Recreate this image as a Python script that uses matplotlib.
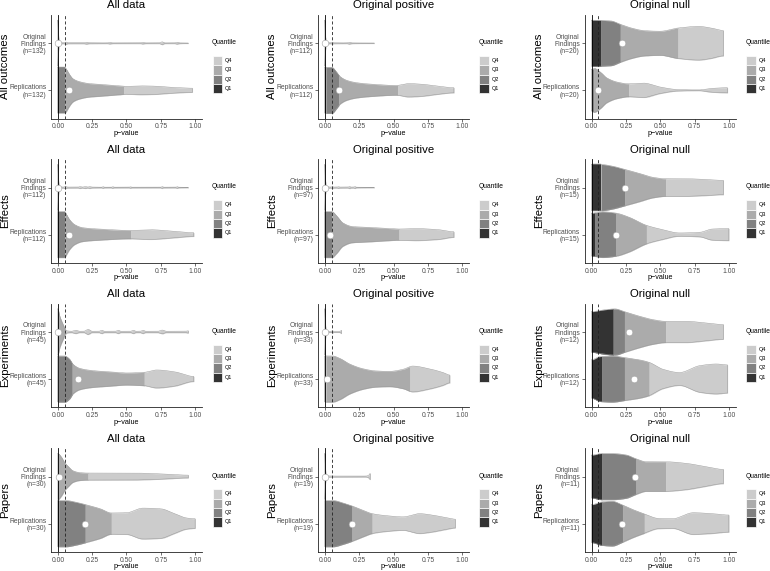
import numpy as np
import matplotlib
matplotlib.use("Agg")
import matplotlib.pyplot as plt
from matplotlib.patches import Rectangle

plt.rcParams['font.family'] = ['Liberation Sans', 'DejaVu Sans']
plt.rcParams['lines.scale_dashes'] = False

row_names = ["All outcomes", "Effects", "Experiments", "Papers"]
col_names = ["All data", "Original positive", "Original null"]
n_counts = [[132, 112, 20], [112, 97, 15], [45, 33, 12], [30, 19, 11]]
quant_labels = ["Q1", "Q2", "Q3", "Q4"]
quant_colors = ["#333333", "#818181", "#ababab", "#cccccc"]
x_ticks = [0, 0.25, 0.5, 0.75, 1.0]

# each violin: p grid, relative half width, quartile cut points, dot position
# --- All outcomes
ao_all_orig_p = [0, .004, .01, .02, .045, .06, .075, .19, .21, .23, .36, .38, .40, .60, .62, .64, .74, .76, .78, .85, .87, .89, .95]
ao_all_orig_w = [1, .35, .08, .03, .02, .05, .02, .02, .04, .02, .015, .035, .015, .015, .035, .015, .015, .06, .015, .015, .04, .015, .01]
ao_all_orig_q = [.0005, .002, .01]
ao_all_orig_dot = .002
ao_all_rep_p = [0, .05, .06, .085, .11, .16, .23, .30, .45, .50, .60, .70, .85, .98]
ao_all_rep_w = [1, 1, .93, .68, .50, .37, .29, .26, .19, .17, .19, .18, .12, .09]
ao_all_rep_q = [.005, .05, .48]
ao_all_rep_dot = .08

ao_pos_orig_p = [0, .004, .01, .03, .045, .055, .065, .16, .18, .20, .36]
ao_pos_orig_w = [1, .3, .06, .025, .02, .045, .02, .015, .04, .015, .01]
ao_pos_orig_q = [.0003, .001, .005]
ao_pos_orig_dot = .004
ao_pos_rep_p = [0, .05, .085, .11, .16, .23, .35, .52, .61, .71, .83, .94]
ao_pos_rep_w = [1, 1, .79, .60, .43, .33, .26, .21, .29, .26, .17, .11]
ao_pos_rep_q = [.008, .10, .53]
ao_pos_rep_dot = .10

ao_null_orig_p = [0, .14, .21, .29, .38, .50, .63, .78, .87, .96]
ao_null_orig_w = [1, .97, .82, .66, .55, .52, .66, .73, .66, .55]
ao_null_orig_q = [.066, .21, .63]
ao_null_orig_dot = .225
ao_null_rep_p = [0, .02, .066, .11, .19, .27, .38, .50, .63, .78, .87, .99]
ao_null_rep_w = [.9, .95, .78, .54, .35, .28, .31, .14, .03, .015, .08, .11]
ao_null_rep_q = [.003, .015, .27]
ao_null_rep_dot = .046

# --- Effects
ef_all_orig_p = [0, .004, .01, .02, .04, .056, .07, .15, .16, .18, .20, .22, .23, .25, .32, .33, .34, .39, .40, .41, .52, .53, .54, .75, .76, .77, .86, .87, .88, .95]
ef_all_orig_w = [1, .35, .08, .03, .02, .045, .02, .02, .04, .02, .04, .02, .04, .02, .015, .035, .015, .015, .035, .015, .015, .03, .015, .015, .04, .015, .015, .035, .015, .01]
ef_all_orig_q = [.0005, .002, .01]
ef_all_orig_dot = .002
ef_all_rep_p = [0, .05, .06, .085, .12, .18, .30, .53, .67, .85, .99]
ef_all_rep_w = [1, 1, .90, .65, .44, .30, .24, .18, .21, .14, .08]
ef_all_rep_q = [.005, .05, .53]
ef_all_rep_dot = .078

ef_pos_orig_p = [0, .004, .01, .03, .045, .055, .065, .09, .10, .11, .17, .18, .19, .21, .22, .23, .36]
ef_pos_orig_w = [1, .3, .06, .025, .02, .045, .02, .02, .035, .02, .02, .045, .02, .02, .04, .015, .01]
ef_pos_orig_q = [.0003, .001, .005]
ef_pos_orig_dot = .004
ef_pos_rep_p = [0, .05, .085, .13, .20, .33, .47, .54, .66, .83, .94]
ef_pos_rep_w = [1, 1, .82, .51, .35, .31, .26, .24, .26, .21, .12]
ef_pos_rep_q = [.003, .05, .54]
ef_pos_rep_dot = .04

ef_null_orig_p = [0, .07, .15, .24, .35, .45, .54, .69, .83, .96]
ef_null_orig_w = [1, 1, .93, .79, .61, .44, .38, .38, .35, .31]
ef_null_orig_q = [.07, .243, .54]
ef_null_orig_dot = .243
ef_null_rep_p = [0, .08, .18, .27, .40, .52, .64, .79, .88, 1.0]
ef_null_rep_w = [.93, .99, .93, .76, .40, .21, .07, .10, .24, .26]
ef_null_rep_q = [.024, .178, .40]
ef_null_rep_dot = .178

# --- Experiments
ex_all_orig_p = [0, .01, .025, .04, .05, .056, .065, .10, .13, .16, .19, .22, .25, .30, .32, .34, .42, .44, .46, .53, .55, .57, .60, .62, .64, .73, .76, .79, .93, .95]
ex_all_orig_w = [1, .75, .5, .3, .15, .1, .05, .03, .07, .03, .03, .11, .03, .03, .07, .03, .03, .07, .03, .03, .07, .03, .03, .07, .03, .03, .08, .03, .03, .05]
ex_all_orig_q = [.002, .008, .05]
ex_all_orig_dot = .002
ex_all_rep_p = [0, .05, .085, .11, .16, .26, .38, .50, .63, .72, .85, .99]
ex_all_rep_w = [1, 1, .86, .64, .46, .36, .31, .26, .29, .39, .31, .11]
ex_all_rep_q = [.004, .105, .63]
ex_all_rep_dot = .145

ex_pos_orig_p = [0, .004, .01, .03, .045, .055, .065, .10, .115, .12]
ex_pos_orig_w = [1, .3, .06, .025, .02, .05, .02, .02, .04, .07]
ex_pos_orig_q = [.0005, .002, .008]
ex_pos_orig_dot = .004
ex_pos_rep_p = [0, .055, .11, .18, .28, .37, .47, .57, .64, .76, .86, .91]
ex_pos_rep_w = [1, 1, .89, .65, .44, .35, .33, .42, .56, .44, .28, .17]
ex_pos_rep_q = [.002, .008, .62]
ex_pos_rep_dot = .012

ex_null_orig_p = [0, .08, .17, .24, .35, .45, .54, .69, .83, .96]
ex_null_orig_w = [.88, .95, 1, .88, .68, .53, .46, .46, .39, .32]
ex_null_orig_q = [.158, .24, .54]
ex_null_orig_dot = .275
ex_null_rep_p = [0, .06, .15, .24, .35, .42, .52, .64, .79, .91, .99]
ex_null_rep_w = [.83, .97, 1, .93, .83, .72, .42, .28, .58, .65, .61]
ex_null_rep_q = [.075, .24, .42]
ex_null_rep_dot = .31

# --- Papers
pa_all_orig_p = [0, .025, .05, .075, .11, .16, .22, .30, .55, .77, .95]
pa_all_orig_w = [1, .85, .6, .44, .25, .17, .15, .15, .15, .11, .06]
pa_all_orig_q = [.001, .005, .22]
pa_all_orig_dot = .007
pa_all_rep_p = [0, .06, .13, .21, .31, .39, .50, .62, .75, .85, .94, 1.0]
pa_all_rep_w = [1, 1, .93, .81, .64, .46, .47, .67, .64, .43, .24, .21]
pa_all_rep_q = [.007, .20, .39]
pa_all_rep_dot = .20

pa_pos_orig_p = [0, .004, .01, .03, .10, .20, .30, .32, .33]
pa_pos_orig_w = [1, .3, .06, .025, .02, .02, .02, .06, .13]
pa_pos_orig_q = [.0005, .002, .008]
pa_pos_orig_dot = .004
pa_pos_rep_p = [0, .06, .13, .20, .28, .345, .47, .57, .69, .78, .88, .95]
pa_pos_rep_w = [1, 1, .90, .76, .57, .43, .33, .29, .43, .37, .26, .19]
pa_pos_rep_q = [.003, .198, .345]
pa_pos_rep_dot = .20

pa_null_orig_p = [0, .075, .15, .25, .32, .40, .54, .69, .83, .96]
pa_null_orig_w = [.93, 1, 1, .94, .78, .64, .64, .57, .43, .31]
pa_null_orig_q = [.075, .324, .54]
pa_null_orig_dot = .32
pa_null_rep_p = [0, .075, .15, .22, .30, .38, .49, .59, .74, .88, 1.0]
pa_null_rep_w = [.82, .94, .97, .82, .61, .43, .22, .21, .47, .43, .37]
pa_null_rep_q = [.075, .226, .385]
pa_null_rep_dot = .22

orig_sets = [
    [(ao_all_orig_p, ao_all_orig_w, ao_all_orig_q, ao_all_orig_dot),
     (ao_pos_orig_p, ao_pos_orig_w, ao_pos_orig_q, ao_pos_orig_dot),
     (ao_null_orig_p, ao_null_orig_w, ao_null_orig_q, ao_null_orig_dot)],
    [(ef_all_orig_p, ef_all_orig_w, ef_all_orig_q, ef_all_orig_dot),
     (ef_pos_orig_p, ef_pos_orig_w, ef_pos_orig_q, ef_pos_orig_dot),
     (ef_null_orig_p, ef_null_orig_w, ef_null_orig_q, ef_null_orig_dot)],
    [(ex_all_orig_p, ex_all_orig_w, ex_all_orig_q, ex_all_orig_dot),
     (ex_pos_orig_p, ex_pos_orig_w, ex_pos_orig_q, ex_pos_orig_dot),
     (ex_null_orig_p, ex_null_orig_w, ex_null_orig_q, ex_null_orig_dot)],
    [(pa_all_orig_p, pa_all_orig_w, pa_all_orig_q, pa_all_orig_dot),
     (pa_pos_orig_p, pa_pos_orig_w, pa_pos_orig_q, pa_pos_orig_dot),
     (pa_null_orig_p, pa_null_orig_w, pa_null_orig_q, pa_null_orig_dot)],
]
rep_sets = [
    [(ao_all_rep_p, ao_all_rep_w, ao_all_rep_q, ao_all_rep_dot),
     (ao_pos_rep_p, ao_pos_rep_w, ao_pos_rep_q, ao_pos_rep_dot),
     (ao_null_rep_p, ao_null_rep_w, ao_null_rep_q, ao_null_rep_dot)],
    [(ef_all_rep_p, ef_all_rep_w, ef_all_rep_q, ef_all_rep_dot),
     (ef_pos_rep_p, ef_pos_rep_w, ef_pos_rep_q, ef_pos_rep_dot),
     (ef_null_rep_p, ef_null_rep_w, ef_null_rep_q, ef_null_rep_dot)],
    [(ex_all_rep_p, ex_all_rep_w, ex_all_rep_q, ex_all_rep_dot),
     (ex_pos_rep_p, ex_pos_rep_w, ex_pos_rep_q, ex_pos_rep_dot),
     (ex_null_rep_p, ex_null_rep_w, ex_null_rep_q, ex_null_rep_dot)],
    [(pa_all_rep_p, pa_all_rep_w, pa_all_rep_q, pa_all_rep_dot),
     (pa_pos_rep_p, pa_pos_rep_w, pa_pos_rep_q, pa_pos_rep_dot),
     (pa_null_rep_p, pa_null_rep_w, pa_null_rep_q, pa_null_rep_dot)],
]

W, H = 770, 571
half_max = 0.49
col_left = [51, 318, 584.7]
row_top = [15, 159.3, 303.7, 448.3]
ax_w, ax_h = 151, 103.5


def fx(px):
    return px / W


def fy(py):
    return 1 - py / H


def pchip(xk, yk, x):
    # monotone cubic through the read points, only to draw smooth edges
    xk = np.asarray(xk, float)
    yk = np.asarray(yk, float)
    h = np.diff(xk)
    delta = np.diff(yk) / h
    n = len(xk)
    m = np.zeros(n)
    if n > 2:
        for i in range(1, n - 1):
            if delta[i - 1] * delta[i] > 0:
                w1 = 2 * h[i] + h[i - 1]
                w2 = h[i] + 2 * h[i - 1]
                m[i] = (w1 + w2) / (w1 / delta[i - 1] + w2 / delta[i])
    m[0] = delta[0] if n == 2 else 0.0
    m[-1] = 0.0
    idx = np.clip(np.searchsorted(xk, x) - 1, 0, n - 2)
    t = (x - xk[idx]) / h[idx]
    h00 = 2 * t ** 3 - 3 * t ** 2 + 1
    h10 = t ** 3 - 2 * t ** 2 + t
    h01 = -2 * t ** 3 + 3 * t ** 2
    h11 = t ** 3 - t ** 2
    return (h00 * yk[idx] + h10 * h[idx] * m[idx] + h01 * yk[idx + 1]
            + h11 * h[idx] * m[idx + 1])


def draw_violin(ax, yc, p, w, cuts, dot):
    p = np.asarray(p, float)
    w = np.asarray(w, float) * half_max
    grid = np.unique(np.concatenate([np.linspace(p[0], p[-1], 600), p]))
    wg = np.maximum(pchip(p, w, grid), 0)
    edges = [p[0]] + list(cuts) + [p[-1]]
    for k in range(4):
        lo, hi = edges[k], min(edges[k + 1], p[-1])
        if hi <= lo:
            continue
        inner = grid[(grid > lo) & (grid < hi)]
        xs = np.concatenate([[lo], inner, [hi]])
        ws = np.interp(xs, grid, wg)
        ax.fill_between(xs, yc - ws, yc + ws, facecolor=quant_colors[k],
                        edgecolor=quant_colors[k], lw=0.2, zorder=2)
    xo = np.concatenate([grid, grid[::-1], [grid[0]]])
    yo = np.concatenate([yc + wg, (yc - wg)[::-1], [yc + wg[0]]])
    ax.plot(xo, yo, color='#9a9a9a', lw=0.35, zorder=3)
    ax.plot([dot], [yc], 'o', ms=4.8, mfc='white', mec='#a0a0a0', mew=0.4, zorder=6)


fig = plt.figure(figsize=(W / 100, H / 100), dpi=100)

for r in range(4):
    for c in range(3):
        left, top = col_left[c], row_top[r]
        ax = fig.add_axes([fx(left), fy(top + ax_h), ax_w / W, ax_h / H])
        p, w, q, d = orig_sets[r][c]
        draw_violin(ax, 2, p, w, q, d)
        p, w, q, d = rep_sets[r][c]
        draw_violin(ax, 1, p, w, q, d)
        ax.axvline(0, color='black', lw=0.6, zorder=4)
        ax.axvline(0.05, color='#222222', lw=0.6, ls=(0, (2.2, 1.6)), zorder=4)
        ax.set_xlim(-0.05, 1.05)
        ax.set_ylim(0.4, 2.6)
        n = n_counts[r][c]
        ax.set_yticks([2, 1])
        ax.set_yticklabels([f"Original\nFindings\n(n={n})", f"Replications\n(n={n})"],
                           linespacing=1.05, ha='right', multialignment='right')
        ax.set_xticks(x_ticks)
        ax.set_xticklabels([f"{t:.2f}" for t in x_ticks])
        ax.tick_params(direction='out', length=2, width=0.5, color='#333333',
                       labelsize=4.9, labelcolor='#4d4d4d', pad=1.5)
        for s in ['top', 'right']:
            ax.spines[s].set_visible(False)
        for s in ['left', 'bottom']:
            ax.spines[s].set_linewidth(0.6)
            ax.spines[s].set_color('#222222')
        ax.patch.set_alpha(0)

        # titles and labels
        fig.text(fx(left + ax_w / 2), fy(top - 9.5), col_names[c], ha='center', va='center',
                 fontsize=8.2, color='black')
        fig.text(fx(left - 46), fy(top + ax_h / 2), row_names[r], rotation=90,
                 ha='center', va='center', fontsize=8.2, color='black')
        fig.text(fx(left + ax_w / 2), fy(top + ax_h + 15), "p\u2212value", ha='center',
                 va='center', fontsize=5.2, color='black')

        # legend
        lx = left + ax_w + 10
        fig.text(fx(lx - 0.5), fy(top + 27.7), "Quantile", ha='left', va='center',
                 fontsize=4.8, color='black')
        key = 9.3
        for i, k in enumerate([3, 2, 1, 0]):
            ky = top + 41 + i * key
            fig.add_artist(Rectangle((fx(lx + 0.5), fy(ky + key)), key / W, key / H,
                                     facecolor=quant_colors[k], edgecolor='white', lw=0.5,
                                     transform=fig.transFigure))
            fig.text(fx(lx + 0.5 + key + 3.2), fy(ky + key / 2), quant_labels[k],
                     ha='left', va='center', fontsize=4.0, color='black')

fig.savefig("out.png", dpi=100)
